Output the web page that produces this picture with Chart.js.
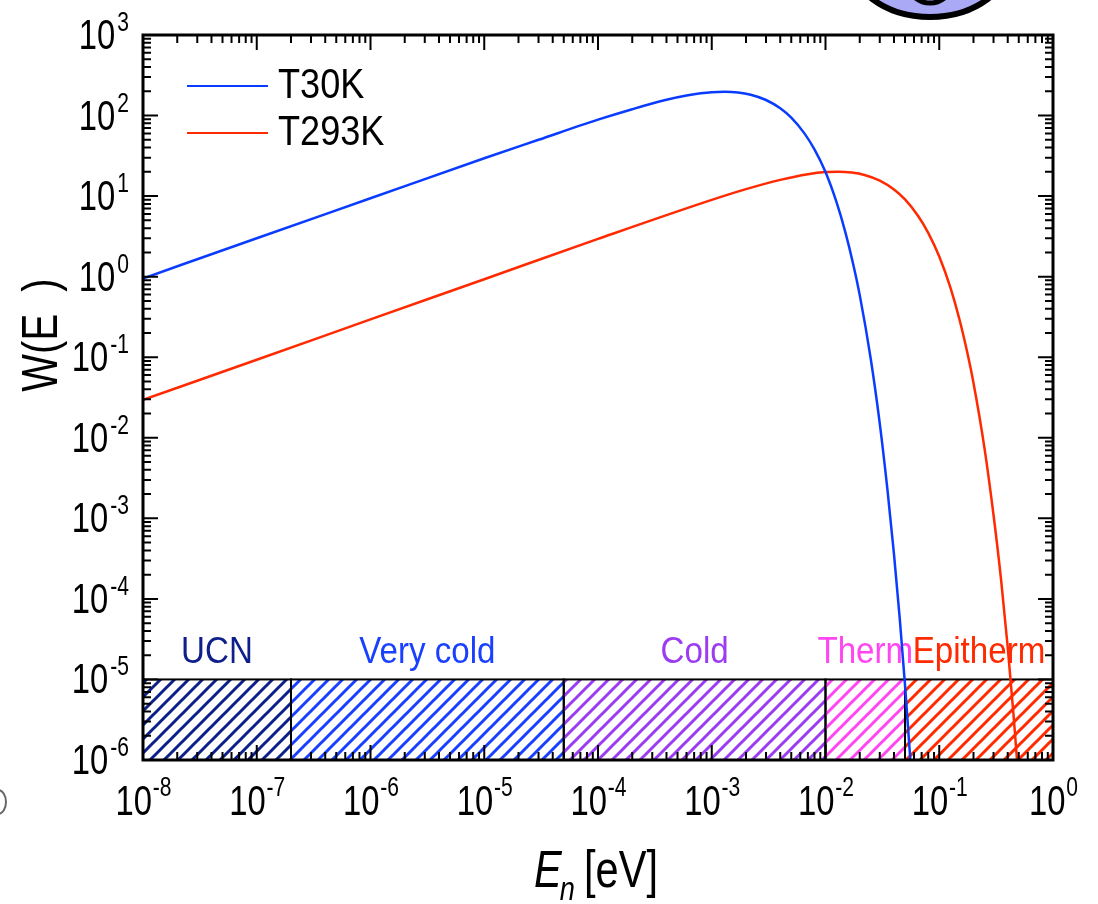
<!DOCTYPE html>
<html>
<head>
<meta charset="utf-8">
<script src="https://cdn.jsdelivr.net/npm/chart.js@4/dist/chart.umd.min.js"></script>
<style>
  html, body { margin: 0; padding: 0; background: #fff; }
  canvas { display: block; }
</style>
</head>
<body>
<canvas id="grafico" width="1098" height="904"></canvas>
<script>
// ===============================
// DATA
// ===============================
const energyBlue = [1e-8, 1e-7, 1e-6, 1e-5, 3e-5, 1e-4, 2e-4, 4e-4, 6e-4, 8e-4, 1e-3, 1.3e-3, 1.7e-3, 2.2e-3, 3e-3, 4e-3, 5e-3, 6.5e-3, 8e-3, 1e-2, 1.25e-2, 1.5e-2, 1.75e-2, 2e-2, 2.5e-2, 3e-2, 3.5e-2, 4e-2, 4.5e-2, 5e-2, 5.5e-2, 6e-2];
const wBlue = [0.95, 3.0, 9.4, 29.5, 50, 89, 120, 157, 177, 189, 195, 197, 193, 181, 156, 123, 94, 60.5, 38, 19.9, 8.4, 3.5, 1.44, 0.59, 0.095, 0.015, 2.3e-3, 3.6e-4, 5.6e-5, 8.5e-6, 1.3e-6, 1.9e-7];

const energyRed = [1e-8, 1e-7, 1e-6, 1e-5, 1e-4, 1e-3, 2e-3, 4e-3, 7e-3, 1e-2, 1.3e-2, 1.7e-2, 2.2e-2, 3e-2, 4e-2, 5e-2, 6.5e-2, 8e-2, 0.1, 0.125, 0.15, 0.175, 0.2, 0.25, 0.3, 0.35, 0.4, 0.45, 0.5];
const wRed = [0.0295, 0.093, 0.295, 0.93, 2.94, 8.97, 12.2, 15.9, 18.7, 19.9, 20.1, 19.6, 18.3, 15.6, 12.1, 9.1, 5.7, 3.5, 1.78, 0.74, 0.30, 0.12, 0.048, 7.4e-3, 1.1e-3, 1.7e-4, 2.5e-5, 3.6e-6, 5.2e-7];

const seriesNames = ["T30K", "T293K"];
const seriesColors = ["#0a3cff", "#ff2a00"];

const regionNames = ["UCN", "Very cold", "Cold", "Therm", "Epitherm"];
const regionEdges = [1e-8, 2e-7, 5e-5, 1e-2, 5e-2, 1];
const regionColors = ["#0d1f8a", "#1a40ff", "#9b3cf2", "#ff46f0", "#ff2a00"];
const regionLow = 1e-6;
const regionHigh = 1e-5;

const xTickExps = [-8, -7, -6, -5, -4, -3, -2, -1, 0];
const yTickExps = [-6, -5, -4, -3, -2, -1, 0, 1, 2, 3];

const FONT = "'Liberation Sans', Arial, sans-serif";

// ===============================
// HELPERS
// ===============================
function texto(ctx, str, x, y, size, opts = {}) {
  const sx = opts.sx || 0.8;
  ctx.save();
  ctx.font = (opts.style || "") + " " + size + "px " + FONT;
  ctx.fillStyle = opts.color || "#000";
  ctx.textBaseline = "alphabetic";
  const w = ctx.measureText(str).width * sx;
  let x0 = x;
  if (opts.align === "center") x0 = x - w / 2;
  if (opts.align === "right") x0 = x - w;
  ctx.translate(x0, y);
  ctx.scale(sx, 1);
  ctx.textAlign = "left";
  ctx.fillText(str, 0, 0);
  ctx.restore();
  return w;
}

function largura(ctx, str, size, sx) {
  ctx.save();
  ctx.font = size + "px " + FONT;
  const w = ctx.measureText(str).width * sx;
  ctx.restore();
  return w;
}

function hachura(ctx, color) {
  const c = document.createElement("canvas");
  c.width = c.height = 14;
  const g = c.getContext("2d");
  g.strokeStyle = color;
  g.lineWidth = 3;
  g.beginPath();
  g.moveTo(-1, 15); g.lineTo(15, -1);
  g.moveTo(-8, 8); g.lineTo(8, -8);
  g.moveTo(6, 22); g.lineTo(22, 6);
  g.stroke();
  return ctx.createPattern(c, "repeat");
}

// ===============================
// PLUGIN: regions, frame, ticks, texts
// ===============================
const decor = {
  id: "decor",
  beforeDatasetsDraw(chart) {
    const ctx = chart.ctx;
    const xs = chart.scales.x, ys = chart.scales.y;
    const yTop = ys.getPixelForValue(regionHigh);
    const yBot = ys.getPixelForValue(regionLow);
    regionNames.forEach((nome, i) => {
      const x0 = xs.getPixelForValue(regionEdges[i]);
      const x1 = xs.getPixelForValue(regionEdges[i + 1]);
      ctx.save();
      ctx.fillStyle = hachura(ctx, regionColors[i]);
      ctx.fillRect(x0, yTop, x1 - x0, yBot - yTop);
      ctx.strokeStyle = "#000";
      ctx.lineWidth = 2;
      ctx.strokeRect(x0, yTop, x1 - x0, yBot - yTop);
      ctx.restore();
      const xc = xs.getPixelForValue(Math.sqrt(regionEdges[i] * regionEdges[i + 1]));
      texto(ctx, nome, xc, yTop - 16, 36, { color: regionColors[i], align: "center", sx: 0.92 });
    });
  },
  afterDatasetsDraw(chart) {
    const ctx = chart.ctx;
    const a = chart.chartArea;
    const xs = chart.scales.x, ys = chart.scales.y;

    // ticks (inward, all four sides)
    ctx.save();
    ctx.strokeStyle = "#000";
    ctx.lineWidth = 2;
    ctx.beginPath();
    xTickExps.forEach((e) => {
      for (let m = 1; m <= 9; m++) {
        const v = m * Math.pow(10, e);
        if (v > 1.0001) break;
        const px = xs.getPixelForValue(v);
        const len = m === 1 ? 15 : 8;
        ctx.moveTo(px, a.bottom); ctx.lineTo(px, a.bottom - len);
        ctx.moveTo(px, a.top); ctx.lineTo(px, a.top + len);
      }
    });
    yTickExps.forEach((e) => {
      for (let m = 1; m <= 9; m++) {
        const v = m * Math.pow(10, e);
        if (v > 1000.1) break;
        const py = ys.getPixelForValue(v);
        const len = m === 1 ? 15 : 8;
        ctx.moveTo(a.left, py); ctx.lineTo(a.left + len, py);
        ctx.moveTo(a.right, py); ctx.lineTo(a.right - len, py);
      }
    });
    ctx.stroke();
    ctx.lineWidth = 3;
    ctx.strokeRect(a.left, a.top, a.right - a.left, a.bottom - a.top);
    ctx.restore();

    // tick labels
    const sx = 0.78;
    xTickExps.forEach((e) => {
      const px = xs.getPixelForValue(Math.pow(10, e));
      const w1 = largura(ctx, "10", 42, sx);
      const w2 = largura(ctx, String(e), 27, sx);
      const x0 = px - (w1 + w2) / 2;
      texto(ctx, "10", x0, 815, 42, { sx });
      texto(ctx, String(e), x0 + w1 + 1, 796, 27, { sx });
    });
    yTickExps.forEach((e) => {
      const py = ys.getPixelForValue(Math.pow(10, e));
      const w2 = largura(ctx, String(e), 27, sx);
      texto(ctx, String(e), 129 - w2, py - 4, 27, { sx });
      texto(ctx, "10", 127 - w2, py + 14, 42, { sx, align: "right" });
    });

    // axis titles
    let xx = 534;
    xx += texto(ctx, "E", xx, 887, 52, { style: "italic", sx: 0.8 });
    texto(ctx, "n", xx - 2, 900, 34, { style: "italic", sx: 0.8 });
    texto(ctx, "[eV]", 584, 887, 52, { sx: 0.8 });

    ctx.save();
    ctx.translate(57, 335);
    ctx.rotate(-Math.PI / 2);
    texto(ctx, "W(E  )", 0, 0, 50, { sx: 0.8, align: "center" });
    ctx.restore();

    // legend
    seriesNames.forEach((nome, i) => {
      const y = 86 + i * 47;
      ctx.save();
      ctx.strokeStyle = seriesColors[i];
      ctx.lineWidth = 2;
      ctx.beginPath();
      ctx.moveTo(187, y); ctx.lineTo(268, y);
      ctx.stroke();
      ctx.restore();
      texto(ctx, nome, 278, y + 12, 43, { sx: 0.84 });
    });

    // leftovers of the cropped figure
    ctx.save();
    ctx.fillStyle = "#a9a9f5";
    ctx.strokeStyle = "#000";
    ctx.lineWidth = 6;
    ctx.beginPath();
    ctx.ellipse(930, -45, 82, 62, 0, 0, Math.PI * 2);
    ctx.fill(); ctx.stroke();
    ctx.lineWidth = 5;
    ctx.beginPath();
    ctx.ellipse(930, -22, 24, 25, 0, 0, Math.PI * 2);
    ctx.stroke();
    ctx.strokeStyle = "#666";
    ctx.lineWidth = 2;
    ctx.beginPath();
    ctx.ellipse(-2, 802, 8, 12, 0, 0, Math.PI * 2);
    ctx.stroke();
    ctx.restore();
  }
};

// ===============================
// CHART
// ===============================
const ctx = document.getElementById("grafico").getContext("2d");

new Chart(ctx, {
  type: "line",
  data: {
    datasets: [
      {
        label: seriesNames[0],
        data: energyBlue.map((e, i) => ({ x: e, y: wBlue[i] })),
        borderColor: seriesColors[0],
        borderWidth: 2.5,
        pointRadius: 0,
        cubicInterpolationMode: "monotone"
      },
      {
        label: seriesNames[1],
        data: energyRed.map((e, i) => ({ x: e, y: wRed[i] })),
        borderColor: seriesColors[1],
        borderWidth: 2.5,
        pointRadius: 0,
        cubicInterpolationMode: "monotone"
      }
    ]
  },
  options: {
    responsive: false,
    animation: false,
    layout: { padding: { left: 143, right: 45, top: 35, bottom: 144 } },
    scales: {
      x: { type: "logarithmic", min: 1e-8, max: 1, display: false },
      y: { type: "logarithmic", min: 1e-6, max: 1e3, display: false }
    },
    plugins: {
      legend: { display: false },
      tooltip: { enabled: false }
    }
  },
  plugins: [decor]
});
</script>
</body>
</html>
